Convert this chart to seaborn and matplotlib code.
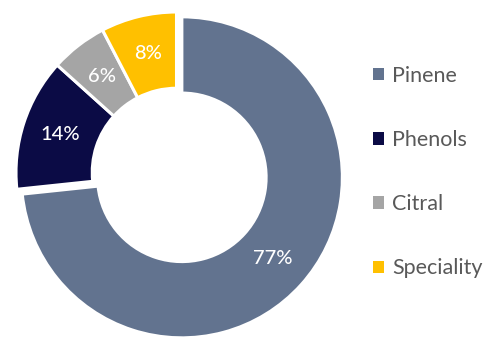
import matplotlib
matplotlib.use("Agg")
import matplotlib.pyplot as plt
import seaborn as sns
import numpy as np

sns.set_theme(style="white")
plt.rcParams['font.family'] = ['Lato', 'DejaVu Sans']

categories = ["Pinene", "Phenols", "Citral", "Speciality"]
values = [77, 14, 6, 8]
labels = ["77%", "14%", "6%", "8%"]
colors = sns.color_palette(["#62738f", "#0b0b45", "#a5a5a5", "#ffc000"])
explode = [0.045, 0, 0, 0]

W, H = 489, 341
fig = plt.figure(figsize=(W / 100, H / 100), dpi=100)
ax = fig.add_axes([0, 0, 1, 1])

wedges, _ = ax.pie(values, colors=colors, startangle=90, counterclock=False,
                   explode=explode, radius=1.0,
                   wedgeprops=dict(width=0.475, edgecolor="white", linewidth=2.2))

for w, lab, ex in zip(wedges, labels, explode):
    ang = np.deg2rad((w.theta1 + w.theta2) / 2)
    r = 0.76 + ex
    ax.text(r * np.cos(ang), r * np.sin(ang), lab, ha="center", va="center",
            color="white", fontsize=14.5, fontweight="medium")

scale = 160.5
cx, cy = 176.5, 172.5
ax.set_xlim(-cx / scale, (W - cx) / scale)
ax.set_ylim(-(H - cy) / scale, cy / scale)
ax.set_aspect("auto")
ax.axis("off")

leg = fig.legend(wedges, categories, loc="upper left", bbox_to_anchor=(373 / W, 1 - 66 / H),
                 frameon=False, fontsize=15.5, handlelength=0.5, handleheight=0.5,
                 handletextpad=0.4, labelspacing=2.05, borderpad=0, borderaxespad=0)
for t in leg.get_texts():
    t.set_color("#595959")
for h in leg.legend_handles:
    h.set_edgecolor("none")

fig.savefig("out.png", dpi=100)
